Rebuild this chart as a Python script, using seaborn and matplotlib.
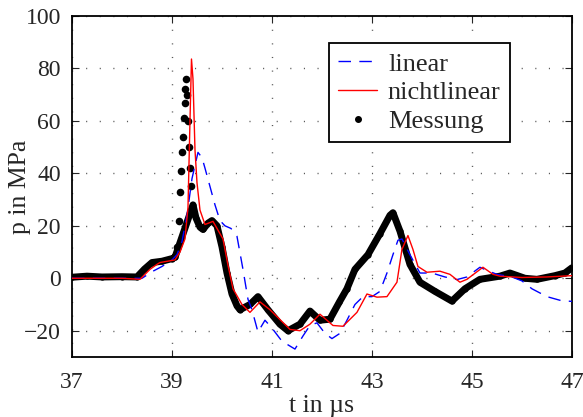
import numpy as np
import pandas as pd
import seaborn as sns
import matplotlib.pyplot as plt
from matplotlib.lines import Line2D

# Messung
meas_t = [37.0, 37.3, 37.6, 38.0, 38.3, 38.45, 38.6, 38.8, 39.0, 39.06, 39.1, 39.14,
          39.16, 39.18, 39.2, 39.22, 39.24, 39.26, 39.27, 39.28, 39.3, 39.32, 39.34,
          39.36, 39.38, 39.42, 39.48, 39.56, 39.62, 39.72, 39.8, 39.9, 40.0, 40.1,
          40.2, 40.3, 40.36, 40.56, 40.72, 40.92, 41.16, 41.32, 41.56, 41.76, 41.96,
          42.16, 42.35, 42.5, 42.66, 42.92, 43.16, 43.36, 43.42, 43.56, 43.76, 43.96,
          44.26, 44.6, 44.86, 45.16, 45.56, 45.76, 46.06, 46.3, 46.66, 46.86, 47.0]
meas_p = [0.4, 0.8, 0.5, 0.6, 0.5, 3.5, 6.0, 6.5, 7.5, 8.0, 12.0, 22.0,
          33.0, 41.0, 48.0, 54.0, 61.0, 67.0, 72.0, 76.0, 70.0, 60.0, 50.0,
          42.0, 35.0, 28.0, 23.0, 19.5, 18.6, 21.0, 22.0, 20.0, 12.0, 2.0,
          -6.0, -10.5, -12.0, -10.0, -7.0, -12.0, -17.5, -20.0, -17.5, -12.5, -16.0,
          -15.6, -9.0, -4.0, 3.4, 9.0, 17.0, 24.0, 25.0, 18.0, 5.3, -1.5,
          -5.0, -8.7, -4.0, -0.4, 0.8, 2.0, 0.0, -0.4, 1.0, 2.0, 4.0]

# linear model
lin_t = [37.0, 38.0, 38.4, 38.6, 38.8, 39.0, 39.1, 39.2, 39.3, 39.4, 39.52, 39.6,
         39.66, 39.76, 39.86, 39.96, 40.06, 40.18, 40.3, 40.42, 40.52, 40.6, 40.72,
         40.86, 41.0, 41.2, 41.46, 41.62, 41.76, 41.9, 42.06, 42.2, 42.36, 42.5,
         42.66, 42.82, 43.0, 43.16, 43.3, 43.42, 43.52, 43.6, 43.76, 43.96, 44.2,
         44.46, 44.7, 44.9, 45.16, 45.3, 45.5, 45.8, 46.0, 46.2, 46.5, 46.8, 47.0]
lin_p = [0.0, 0.0, 0.0, 2.5, 4.5, 7.0, 9.0, 14.0, 24.0, 38.0, 48.0, 46.0,
         42.0, 35.0, 28.0, 22.0, 20.0, 19.0, 16.0, 3.4, -8.0, -12.0, -20.5,
         -16.0, -19.0, -24.0, -27.0, -22.0, -18.0, -17.0, -21.0, -23.0, -21.0, -16.0,
         -10.0, -7.0, -7.0, -5.0, 2.0, 9.0, 14.5, 15.0, 9.0, 2.0, 2.0,
         0.5, -0.5, 0.5, 4.2, 3.0, 1.5, 0.5, -1.0, -4.0, -7.0, -8.6, -8.8]

# nichtlinear model
nl_t = [37.0, 38.0, 38.36, 38.56, 38.7, 38.76, 39.06, 39.16, 39.26, 39.32, 39.36,
        39.39, 39.42, 39.46, 39.5, 39.56, 39.66, 39.82, 40.02, 40.12, 40.22, 40.4,
        40.56, 40.76, 40.96, 41.36, 41.56, 41.76, 41.96, 42.22, 42.42, 42.7, 42.9,
        43.1, 43.3, 43.5, 43.6, 43.72, 43.82, 43.92, 44.1, 44.36, 44.56, 44.76,
        44.9, 45.22, 45.42, 45.56, 46.0, 46.5, 47.0]
nl_p = [0.0, 0.0, -0.4, 3.4, 5.3, 6.0, 7.0, 10.0, 15.0, 27.0, 60.0,
        83.6, 76.0, 49.0, 36.5, 26.0, 20.5, 21.7, 15.0, 5.0, -4.0, -10.0,
        -13.0, -9.0, -12.0, -19.5, -20.0, -17.5, -13.7, -18.0, -18.3, -13.0, -6.0,
        -7.2, -7.0, -1.5, 11.0, 16.3, 11.0, 4.5, 2.3, 2.7, 1.5, -1.5,
        -0.4, 4.2, 1.5, 0.8, 0.3, 0.5, 1.0]

sns.set_style("ticks")
plt.rcParams['font.family'] = ['Liberation Serif', 'DejaVu Serif']

fig = plt.figure(figsize=(5.83, 4.17), dpi=100)
ax = fig.add_axes([0.1235, 0.144, 0.8575, 0.8176])

df_meas = pd.DataFrame({"t": meas_t, "p": meas_p})
# the fast rise is sampled too coarsely to show as a line: dots only there
spike = (df_meas["t"] > 39.08) & (df_meas["t"] < 39.4)
df_line = df_meas.copy()
df_line.loc[spike, "p"] = np.nan
df_lin = pd.DataFrame({"t": lin_t, "p": lin_p})
df_nl = pd.DataFrame({"t": nl_t, "p": nl_p})

sns.lineplot(data=df_line, x="t", y="p", ax=ax, color="black", lw=5,
             marker=".", markersize=9, markeredgewidth=0, sort=False,
             estimator=None, zorder=2)
sns.scatterplot(data=df_meas[spike], x="t", y="p", ax=ax, color="black",
                s=30, linewidth=0, zorder=2)
sns.lineplot(data=df_lin, x="t", y="p", ax=ax, color="#0000ff", lw=1.0,
             sort=False, estimator=None, zorder=3)
ax.lines[-1].set_dashes((9, 6))
sns.lineplot(data=df_nl, x="t", y="p", ax=ax, color="#ff0000", lw=1.0,
             sort=False, estimator=None, zorder=4)

ax.set_xlim(37, 47)
ax.set_ylim(-30, 100)
ax.set_xticks([37, 39, 41, 43, 45, 47])
ax.set_yticks([-20, 0, 20, 40, 60, 80, 100])
ax.grid(True, linestyle=(0, (0.8, 9)), color="0.35", lw=1.0)
ax.tick_params(direction="in", top=True, right=True, length=5, labelsize=17,
               width=0.8)
ax.tick_params(axis="x", pad=11)
ax.tick_params(axis="y", pad=8)
for s in ax.spines.values():
    s.set_linewidth(1.3)
    s.set_color("black")
ax.set_xlabel("t in µs", fontsize=18.5, labelpad=1)
ax.set_ylabel("p in MPa", fontsize=18.5, labelpad=-5)

handles = [
    Line2D([], [], color="#0000ff", lw=1.0, dashes=(9, 6)),
    Line2D([], [], color="#ff0000", lw=1.0),
    Line2D([], [], color="black", lw=0, marker=".", markersize=8),
]
leg = ax.legend(handles, ["linear", "nichtlinear", "Messung"], loc="upper right",
                bbox_to_anchor=(0.876, 0.921), fontsize=19, frameon=True,
                fancybox=False, framealpha=1, edgecolor="black",
                handlelength=1.5, borderpad=0.35, labelspacing=0.2,
                handletextpad=0.4, borderaxespad=0)
leg.get_frame().set_linewidth(1.3)

fig.savefig("out.png", dpi=100)
